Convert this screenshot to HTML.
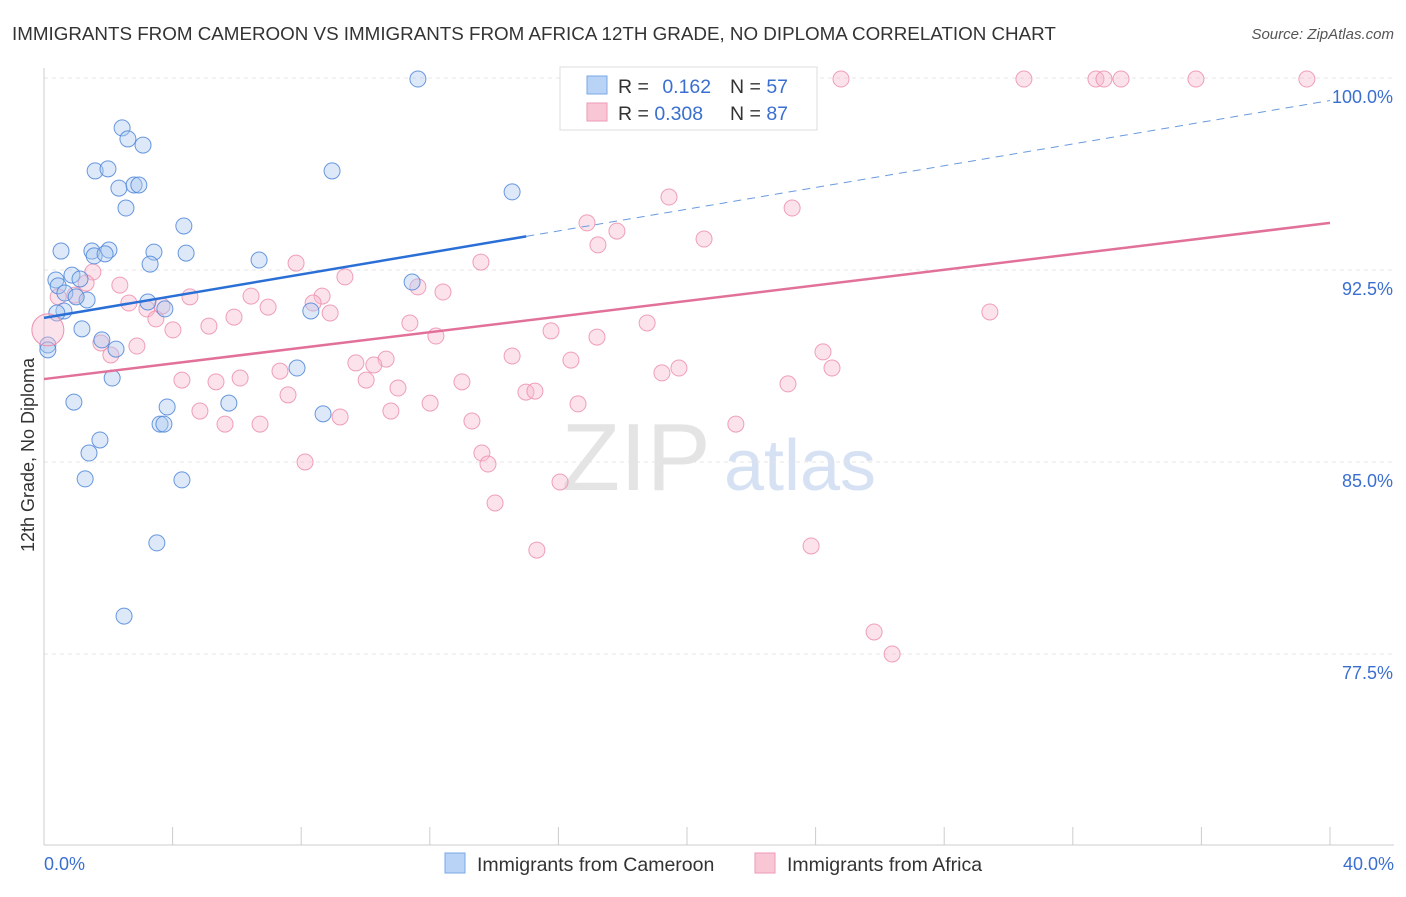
<!DOCTYPE html>
<html><head><meta charset="utf-8">
<style>
body{margin:0;background:#fff;font-family:"Liberation Sans",sans-serif;}
svg text{font-family:"Liberation Sans",sans-serif;}
</style></head>
<body>
<svg id="chart" width="1406" height="892" xmlns="http://www.w3.org/2000/svg">
<text x="12" y="40" font-size="18.8" fill="#333">IMMIGRANTS FROM CAMEROON VS IMMIGRANTS FROM AFRICA 12TH GRADE, NO DIPLOMA CORRELATION CHART</text>
<text x="1394" y="39" font-size="15" fill="#555" font-style="italic" text-anchor="end">Source: ZipAtlas.com</text>
<text x="636" y="490" font-size="96" fill="#e4e4e4" font-family="Liberation Serif" text-anchor="middle">ZIP</text>
<text x="800" y="490" font-size="72" fill="#d6e2f3" text-anchor="middle">atlas</text>
<g id="grid"></g>
<g id="axes"></g>
<g id="marks"></g>
<text transform="translate(34,455) rotate(-90)" font-size="18" fill="#333" text-anchor="middle">12th Grade, No Diploma</text>
<text x="44" y="870" font-size="18" fill="#3a6fd0">0.0%</text>
<text x="1394" y="870" font-size="18" fill="#3a6fd0" text-anchor="end">40.0%</text>
<g>
<rect x="560" y="67" width="257" height="63" fill="#fff" stroke="#ddd"/>
<rect x="587" y="76" width="20" height="18" fill="#b8d3f5" stroke="#7aa8e8"/>
<rect x="587" y="103" width="20" height="18" fill="#f9c6d6" stroke="#ef9ab6"/>
<text x="618" y="93" font-size="19.5" fill="#333">R = <tspan fill="#3a6fd0" dx="8">0.162</tspan></text>
<text x="730" y="93" font-size="19.5" fill="#333">N = <tspan fill="#3a6fd0">57</tspan></text>
<text x="618" y="120" font-size="19.5" fill="#333">R = <tspan fill="#3a6fd0">0.308</tspan></text>
<text x="730" y="120" font-size="19.5" fill="#333">N = <tspan fill="#3a6fd0">87</tspan></text>
</g>
<g>
<rect x="445" y="853" width="20" height="20" fill="#b8d3f5" stroke="#7aa8e8"/>
<text x="477" y="871" font-size="19.5" fill="#333">Immigrants from Cameroon</text>
<rect x="755" y="853" width="20" height="20" fill="#f9c6d6" stroke="#ef9ab6"/>
<text x="787" y="871" font-size="19.5" fill="#333">Immigrants from Africa</text>
</g>
</svg>
<script>
const yTicks=[100,92.5,85,77.5];
const yTickLabels=["100.0%","92.5%","85.0%","77.5%"];
const xTicks=[0,4,8,12,16,20,24,28,32,36,40];
const blueX=[11.63,2.43,2.61,3.08,1.59,1.99,8.96,2.33,2.80,2.95,2.55,14.56,4.35,0.53,1.49,2.02,3.42,4.42,1.56,1.90,3.30,6.69,0.37,0.87,1.12,0.44,0.65,1.34,1.00,11.45,3.23,3.76,8.30,0.62,0.40,1.18,0.12,0.12,1.80,2.24,7.87,2.12,0.93,3.83,5.75,8.68,3.61,3.73,1.74,1.40,1.28,4.29,3.51,2.49];
const blueY=[99.96,98.05,97.62,97.38,96.37,96.45,96.37,95.70,95.82,95.82,94.92,95.55,94.22,93.24,93.24,93.28,93.20,93.16,93.05,93.13,92.73,92.89,92.11,92.30,92.15,91.88,91.60,91.33,91.45,92.03,91.25,90.98,90.90,90.90,90.82,90.20,89.57,89.38,89.77,89.41,88.67,88.28,87.34,87.15,87.30,86.88,86.48,86.48,85.86,85.35,84.34,84.30,81.84,78.98];
const pinkX=[20.09,22.02,24.79,30.48,32.72,32.97,33.50,35.83,39.28,19.44,23.27,16.89,17.82,17.23,20.53,1.52,7.84,13.59,9.36,2.36,1.31,0.44,0.96,4.54,6.44,8.65,8.37,12.41,11.63,2.64,3.20,3.48,3.67,8.90,6.97,5.91,5.13,11.38,4.01,12.19,15.77,17.20,18.76,29.42,1.77,2.89,2.08,10.64,9.70,10.26,14.56,16.39,24.23,24.51,19.75,19.22,7.34,4.29,5.35,6.10,10.02,11.01,13.00,14.99,15.27,7.59,12.01,16.61,23.14,4.85,5.63,6.72,9.21,10.79,13.31,21.52,13.62,13.81,8.12,16.05,14.03,15.33,23.86,25.82,26.38];
const pinkY=[99.96,99.96,99.96,99.96,99.96,99.96,99.96,99.96,99.96,95.35,94.92,94.34,94.02,93.48,93.71,92.42,92.77,92.81,92.23,91.91,91.99,91.45,91.52,91.45,91.48,91.48,91.21,91.64,91.84,91.21,90.98,90.59,91.09,90.82,91.05,90.66,90.31,90.43,90.16,89.92,90.12,89.88,90.43,90.86,89.65,89.53,89.18,89.02,88.87,88.79,89.14,88.98,89.30,88.67,88.67,88.48,88.55,88.20,88.13,88.28,88.20,87.89,88.13,87.73,87.77,87.62,87.30,87.27,88.05,86.99,86.48,86.48,86.76,86.99,86.60,86.48,85.35,84.92,85.00,84.22,83.40,81.56,81.72,78.36,77.50];
const blueTrend=[90.63,99.12];
const pinkTrend=[88.24,94.34];
const blueSolidEnd=15;

const NS="http://www.w3.org/2000/svg";
const X=v=>44+v/40*1286;
const Y=v=>78+(100-v)*25.6;
function mk(parent,tag,attrs){const e=document.createElementNS(NS,tag);for(const k in attrs)e.setAttribute(k,attrs[k]);document.getElementById(parent).appendChild(e);return e;}

yTicks.forEach((t,i)=>{
  const l=mk('grid','line',{x1:44,x2:1394,y1:Y(t),y2:Y(t),stroke:'#e4e4e4','stroke-dasharray':'4,4'});
  
  
  const tx=mk('grid','text',{x:1393,y:Y(t)+25,'font-size':18,fill:'#3a6fd0','text-anchor':'end'});
  tx.textContent=yTickLabels[i];
  
  
});
const ax=mk('axes','line',{x1:44,x2:44,y1:68,y2:845,stroke:'#ccc'});


const bx=mk('axes','line',{x1:44,x2:1394,y1:845,y2:845,stroke:'#ccc'});


xTicks.forEach(t=>{
  const l=mk('axes','line',{x1:X(t),x2:X(t),y1:827,y2:845,stroke:'#ccc'});
  
  
});
function pts(xs,ys,fill,stroke,name){
  xs.forEach((x,i)=>{
    const c=mk('marks','circle',{cx:X(x),cy:Y(ys[i]),r:8,fill:fill,stroke:stroke,'stroke-width':1,'fill-opacity':0.4,'stroke-opacity':0.85});
    
    
  });
}
pts(pinkX,pinkY,'#f7b9cd','#ec8fae','africa-point');
pts(blueX,blueY,'#a9c8f0','#4f86d8','cameroon-point');
const big=mk('marks','circle',{cx:X(0.12),cy:Y(90.16),r:16,fill:'#f7b9cd','fill-opacity':0.4,stroke:'#ec8fae'});


const bt=v=>blueTrend[0]+(blueTrend[1]-blueTrend[0])*v/40;
const l1=mk('marks','line',{x1:X(0),y1:Y(bt(0)),x2:X(blueSolidEnd),y2:Y(bt(blueSolidEnd)),stroke:'#2a6fd6','stroke-width':2.5});


const l2=mk('marks','line',{x1:X(blueSolidEnd),y1:Y(bt(blueSolidEnd)),x2:X(40),y2:Y(bt(40)),stroke:'#6a9be0','stroke-width':1,'stroke-dasharray':'8,6'});


const l3=mk('marks','line',{x1:X(0),y1:Y(pinkTrend[0]),x2:X(40),y2:Y(pinkTrend[1]),stroke:'#e2719a','stroke-width':2.5});


</script>
</body></html>
